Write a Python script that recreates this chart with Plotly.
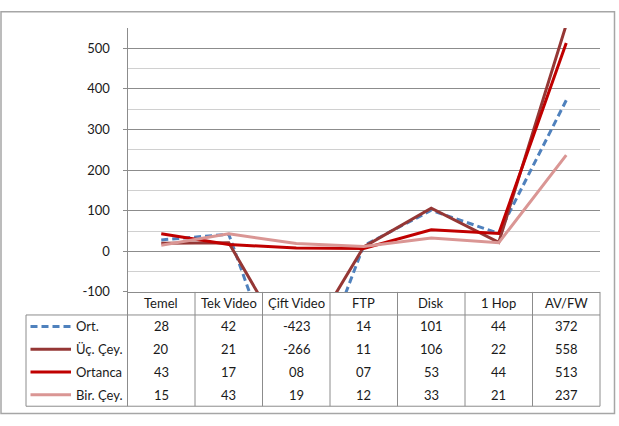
import plotly.graph_objects as go

# ---------------- data ----------------
categories = ["Temel", "Tek Video", "Çift Video", "FTP", "Disk", "1 Hop", "AV/FW"]
series_names = ["Ort.", "Üç. Çey.", "Ortanca", "Bir. Çey."]
ort = [28, 42, -423, 14, 101, 44, 372]
uc_cey = [20, 21, -266, 11, 106, 22, 558]
ortanca = [43, 17, 8, 7, 53, 44, 513]
bir_cey = [15, 43, 19, 12, 33, 21, 237]
y_tick_values = [-100, 0, 100, 200, 300, 400, 500]
series_values = [ort, uc_cey, ortanca, bir_cey]

# ---------------- styles ----------------
colors = ["#4F81BD", "#953735", "#C00000", "#DA9694"]
dashes = ["7px,4px", "solid", "solid", "solid"]
FONT = "Lato"
TXT = "#1a1a1a"
GRID_MAJOR = "#8c8c8c"
GRID_MINOR = "#d0d0d0"
TABLE_LINE = "#8c8c8c"
txt_font = dict(family=FONT, size=13, color=TXT)

W, H = 619, 426
def px(x):
    return x / W
def py(y):
    return 1 - y / H

PLOT_L, PLOT_R, PLOT_T, PLOT_B = 127.5, 600.0, 28.5, 297.5
TABLE_L, HEADER_B, TABLE_B = 26.0, 321.0, 414.0
n_cat = len(categories)
col_w = (PLOT_R - PLOT_L) / n_cat
row_h = (TABLE_B - HEADER_B) / len(series_names)

fig = go.Figure()
x_idx = list(range(n_cat))
for name, vals, c, d in zip(series_names, series_values, colors, dashes):
    fig.add_trace(go.Scatter(
        x=x_idx, y=vals, name=name, mode="lines",
        line=dict(color=c, width=3, dash=d),
        hoverinfo="skip", showlegend=False,
    ))

shapes = []
annotations = []

# outer chart border
shapes.append(dict(type="rect", xref="paper", yref="paper",
                   x0=px(1), x1=px(614.5), y0=py(421.5), y1=py(12),
                   line=dict(color="#a6a6a6", width=1.5)))

# table grid
line_style = dict(color=TABLE_LINE, width=1)
for k in range(n_cat + 1):
    xx = PLOT_L + k * col_w
    shapes.append(dict(type="line", xref="paper", yref="paper",
                       x0=px(xx), x1=px(xx), y0=py(PLOT_B), y1=py(TABLE_B), line=line_style))
shapes.append(dict(type="line", xref="paper", yref="paper",
                   x0=px(TABLE_L), x1=px(PLOT_R), y0=py(HEADER_B), y1=py(HEADER_B), line=line_style))
shapes.append(dict(type="line", xref="paper", yref="paper",
                   x0=px(TABLE_L), x1=px(PLOT_R), y0=py(TABLE_B), y1=py(TABLE_B), line=line_style))
shapes.append(dict(type="line", xref="paper", yref="paper",
                   x0=px(TABLE_L), x1=px(TABLE_L), y0=py(HEADER_B), y1=py(TABLE_B), line=line_style))

# header labels
for i, cat in enumerate(categories):
    annotations.append(dict(text=cat, xref="x", yref="paper", x=i,
                            y=py((PLOT_B + HEADER_B) / 2), showarrow=False,
                            xanchor="center", yanchor="middle", font=txt_font))

# data rows + legend keys
for r, (name, vals, c, d) in enumerate(zip(series_names, series_values, colors, dashes)):
    yc = HEADER_B + (r + 0.5) * row_h
    shapes.append(dict(type="line", xref="paper", yref="paper",
                       x0=px(30.5), x1=px(71), y0=py(yc), y1=py(yc),
                       line=dict(color=c, width=3, dash=d)))
    annotations.append(dict(text=name, xref="paper", yref="paper", x=px(73.5), y=py(yc),
                            showarrow=False, xanchor="left", yanchor="middle", font=txt_font))
    for i, v in enumerate(vals):
        annotations.append(dict(text=f"{v:02d}", xref="x", yref="paper", x=i, y=py(yc),
                                showarrow=False, xanchor="center", yanchor="middle",
                                font=txt_font))

fig.update_layout(
    width=W, height=H,
    margin=dict(l=0, r=0, t=0, b=0),
    paper_bgcolor="white", plot_bgcolor="white",
    shapes=shapes, annotations=annotations,
    showlegend=False,
    xaxis=dict(domain=[px(PLOT_L), px(PLOT_R)], range=[-0.5, n_cat - 0.5],
               showgrid=False, zeroline=False, showticklabels=False,
               showline=True, linecolor=GRID_MAJOR, linewidth=1, ticks=""),
    yaxis=dict(domain=[py(PLOT_B), py(PLOT_T)], range=[-100, 550],
               tickvals=y_tick_values, ticktext=[str(v) for v in y_tick_values],
               showgrid=True, gridcolor=GRID_MAJOR, gridwidth=1,
               zeroline=False, showline=True, linecolor=GRID_MAJOR, linewidth=1,
               ticks="outside", ticklen=4, tickcolor=GRID_MAJOR,
               ticklabelstandoff=10,
               tickfont=txt_font,
               minor=dict(dtick=50, tick0=0, showgrid=True, gridcolor=GRID_MINOR, gridwidth=1)),
)

fig.write_html("out.html")
